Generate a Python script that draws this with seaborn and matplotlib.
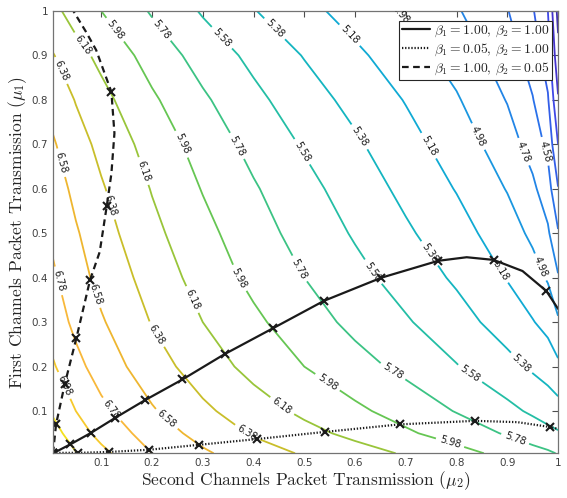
import numpy as np
import matplotlib
matplotlib.use("Agg")
import matplotlib.pyplot as plt
from matplotlib.colors import LinearSegmentedColormap
from matplotlib.lines import Line2D
import seaborn as sns

# grid (rows = mu1, cols = mu2)
mu2_grid = [0.005, 0.05, 0.1, 0.2, 0.3, 0.4, 0.5, 0.6, 0.7, 0.8, 0.9, 0.95, 0.98, 1.0]
mu1_grid = [0.005, 0.05, 0.1, 0.2, 0.3, 0.4, 0.5, 0.6, 0.7, 0.8, 0.9, 1.0]
z_grid = [
    [7.39, 7.19, 7.03, 6.78, 6.61, 6.47, 6.36, 6.26, 6.16, 6.05, 5.92, 5.85, 5.81, 5.77],
    [7.26, 7.07, 6.92, 6.69, 6.51, 6.36, 6.24, 6.13, 6.01, 5.89, 5.76, 5.68, 5.63, 5.60],
    [7.15, 6.98, 6.83, 6.60, 6.42, 6.27, 6.14, 6.02, 5.90, 5.77, 5.63, 5.55, 5.50, 5.46],
    [7.00, 6.84, 6.69, 6.47, 6.28, 6.12, 5.98, 5.85, 5.73, 5.59, 5.44, 5.35, 5.29, 5.22],
    [6.89, 6.73, 6.60, 6.37, 6.18, 6.02, 5.87, 5.73, 5.60, 5.46, 5.29, 5.19, 5.12, 5.01],
    [6.81, 6.66, 6.52, 6.30, 6.10, 5.93, 5.78, 5.64, 5.50, 5.35, 5.17, 5.06, 4.96, 4.80],
    [6.74, 6.60, 6.46, 6.23, 6.04, 5.86, 5.71, 5.56, 5.41, 5.26, 5.07, 4.94, 4.81, 4.60],
    [6.68, 6.53, 6.40, 6.17, 5.97, 5.80, 5.64, 5.49, 5.33, 5.17, 4.97, 4.82, 4.67, 4.39],
    [6.60, 6.46, 6.33, 6.10, 5.90, 5.72, 5.56, 5.41, 5.25, 5.09, 4.87, 4.70, 4.53, 4.18],
    [6.51, 6.37, 6.24, 6.01, 5.81, 5.63, 5.47, 5.32, 5.17, 5.00, 4.77, 4.59, 4.40, 4.00],
    [6.39, 6.25, 6.13, 5.90, 5.70, 5.53, 5.37, 5.22, 5.07, 4.90, 4.68, 4.49, 4.28, 3.84],
    [6.23, 6.10, 5.98, 5.76, 5.56, 5.39, 5.24, 5.10, 4.96, 4.80, 4.59, 4.40, 4.18, 3.72],
]
levels = [3.78, 3.98, 4.18, 4.38, 4.58, 4.78, 4.98, 5.18, 5.38, 5.58, 5.78,
          5.98, 6.18, 6.38, 6.58, 6.78, 6.98, 7.18]

# beta1 = 1.00, beta2 = 1.00
solid_mu2 = [0.005, 0.039, 0.080, 0.128, 0.187, 0.26, 0.343, 0.438, 0.539, 0.652, 0.764, 0.82, 0.873, 0.93, 0.977, 1.0]
solid_mu1 = [0.005, 0.025, 0.051, 0.085, 0.125, 0.171, 0.228, 0.286, 0.348, 0.40, 0.438, 0.446, 0.44, 0.415, 0.37, 0.33]
solid_marks = [0, 1, 2, 3, 4, 5, 6, 7, 8, 9, 10, 12, 14]
# beta1 = 0.05, beta2 = 1.00
dot_mu2 = [0.005, 0.054, 0.116, 0.195, 0.292, 0.407, 0.54, 0.688, 0.837, 0.92, 0.985, 1.0]
dot_mu1 = [0.006, 0.006, 0.008, 0.013, 0.024, 0.037, 0.053, 0.07, 0.078, 0.075, 0.064, 0.06]
dot_marks = [0, 1, 2, 3, 4, 5, 6, 7, 8, 10]
# beta1 = 1.00, beta2 = 0.05
dash_mu2 = [0.005, 0.011, 0.028, 0.051, 0.078, 0.097, 0.111, 0.12, 0.126, 0.12, 0.09, 0.07, 0.045]
dash_mu1 = [0.005, 0.07, 0.16, 0.264, 0.395, 0.458, 0.562, 0.634, 0.725, 0.818, 0.912, 0.953, 1.0]
dash_marks = [0, 1, 2, 3, 4, 6, 9]

legend_labels = [r"$\beta_1 = 1.00$, $\beta_2 = 1.00$",
                 r"$\beta_1 = 0.05$, $\beta_2 = 1.00$",
                 r"$\beta_1 = 1.00$, $\beta_2 = 0.05$"]
tick_vals = [0.1, 0.2, 0.3, 0.4, 0.5, 0.6, 0.7, 0.8, 0.9, 1.0]
tick_text = ["0.1", "0.2", "0.3", "0.4", "0.5", "0.6", "0.7", "0.8", "0.9", "1"]

# where matlab put the contour labels
label_spots = [
    (0.067, 0.927), (0.023, 0.867), (0.016, 0.657), (0.016, 0.393), (0.024, 0.156),
    (0.111, 0.56), (0.087, 0.363), (0.13, 0.96), (0.225, 0.965), (0.35, 0.953),
    (0.455, 0.975), (0.596, 0.953), (0.678, 0.98), (0.176, 0.637), (0.258, 0.70),
    (0.365, 0.695), (0.50, 0.686), (0.62, 0.725), (0.75, 0.70), (0.84, 0.716),
    (0.925, 0.68), (0.98, 0.686), (0.205, 0.27), (0.274, 0.348), (0.373, 0.40),
    (0.116, 0.10), (0.228, 0.081), (0.385, 0.045), (0.452, 0.105), (0.543, 0.16),
    (0.675, 0.19), (0.83, 0.19), (0.925, 0.205), (0.642, 0.418), (0.754, 0.46),
    (0.885, 0.416), (0.957, 0.42), (0.49, 0.42), (0.787, 0.028), (0.915, 0.036),
]

# parula-ish, picked to match the line colours in the figure
parula = LinearSegmentedColormap.from_list("parula", [
    (0.00, "#3e2aa8"),
    (0.07, "#4433cc"),
    (0.125, "#4048e6"),
    (0.18, "#335ee8"),
    (0.234, "#2a72ea"),
    (0.289, "#2286e6"),
    (0.343, "#1a98e0"),
    (0.398, "#10abd4"),
    (0.452, "#14b5c0"),
    (0.507, "#24bea4"),
    (0.561, "#3cc384"),
    (0.616, "#66c653"),
    (0.670, "#98c53a"),
    (0.725, "#c9be2a"),
    (0.779, "#eeb630"),
    (0.834, "#f8b83a"),
    (0.888, "#f6c82c"),
    (0.943, "#f4e01e"),
    (1.00, "#f9fb15"),
])

sns.set_theme(style="white")
plt.rcParams["mathtext.fontset"] = "cm"

fig = plt.figure(figsize=(5.67, 4.98), dpi=100)
ax = fig.add_axes([0.0935, 0.0898, 0.8907, 0.8882])

Z = np.array(z_grid)
cs = ax.contour(mu2_grid, mu1_grid, Z, levels=levels, cmap=parula,
                vmin=Z.min(), vmax=Z.max(), linewidths=1.3)
ax.clabel(cs, manual=label_spots, inline=True, fmt="%.2f", fontsize=7,
          colors="k", inline_spacing=4)

# estimator=None so seaborn doesnt average the repeated x's on the dashed path
line_kw = dict(sort=False, estimator=None, color="k", lw=1.6, marker="x", ms=6, mew=1.5,
               markeredgecolor="k", markerfacecolor="k", ax=ax)
sns.lineplot(x=solid_mu2, y=solid_mu1, ls="-", markevery=solid_marks, **line_kw)
sns.lineplot(x=dot_mu2, y=dot_mu1, ls=(0, (0.6, 0.8)), markevery=dot_marks, **line_kw)
sns.lineplot(x=dash_mu2, y=dash_mu1, ls=(0, (3, 2)), markevery=dash_marks, **line_kw)

ax.set_xlim(0.005, 1)
ax.set_ylim(0.005, 1)
ax.set_xticks(tick_vals, tick_text)
ax.set_yticks(tick_vals, tick_text)
ax.tick_params(direction="in", length=4, width=0.8, colors="0.3", labelsize=7.5,
               top=True, right=True, labelcolor="0.25")
for sp in ax.spines.values():
    sp.set_color("0.45")
    sp.set_linewidth(0.9)

ax.set_xlabel(r"Second Channels Packet Transmission ($\mu_2$)", fontfamily="cmr10",
              fontsize=12.5, color="0.15", labelpad=1)
ax.set_ylabel(r"First Channels Packet Transmission ($\mu_1$)", fontfamily="cmr10",
              fontsize=12.5, color="0.15", labelpad=2)

# legend shows lines only, no markers (like the matlab one)
proxies = [Line2D([], [], color="k", lw=1.6, ls="-"),
           Line2D([], [], color="k", lw=1.6, ls=(0, (0.6, 0.8))),
           Line2D([], [], color="k", lw=1.6, ls=(0, (3, 2)))]
leg = ax.legend(proxies, legend_labels, loc="upper right", bbox_to_anchor=(0.9875, 0.977),
                prop={"family": "cmr10", "size": 9.8}, frameon=True, fancybox=False,
                edgecolor="0.15", framealpha=1, borderpad=0.2, labelspacing=0.2,
                handlelength=2.1, handletextpad=0.25, borderaxespad=0)
leg.get_frame().set_linewidth(0.8)

fig.savefig("out.png", dpi=100)
